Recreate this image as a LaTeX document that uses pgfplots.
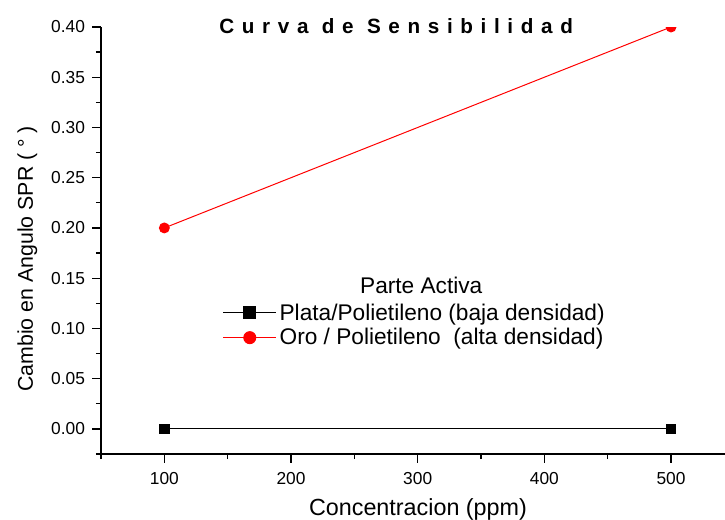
\documentclass[border=0pt]{standalone}
\usepackage{fontspec}
\setmainfont{Liberation Sans}
\newfontfamily\titlefont[LetterSpace=37]{Liberation Sans}
\usepackage{pgfplots}
\pgfplotsset{compat=1.18}

% 1px of the reference = 0.75pt here
\begin{document}
\begin{tikzpicture}
\begin{axis}[
    scale only axis,
    width=468pt, height=320.25pt,
    xmin=50, xmax=542.6,
    ymin=-0.025, ymax=0.40,
    axis lines=left,
    axis line style={-, line width=1.3pt},
    tick align=outside,
    tick style={black, line width=1pt},
    major tick length=6.5pt,
    minor tick length=3.8pt,
    xtick={100,200,300,400,500},
    minor xtick={50,150,250,350,450},
    ytick={0,0.05,...,0.41},
    minor ytick={-0.025,0.025,...,0.38},
    /pgf/number format/assume math mode=true,
    yticklabel style={xshift=-2pt, /pgf/number format/.cd, fixed, fixed zerofill, precision=2},
    xticklabel style={yshift=-4pt},
    ticklabel style={font=\fontsize{13}{15}\selectfont},
    xlabel={Concentracion (ppm)},
    ylabel={Cambio en Angulo SPR ( ° )},
    xlabel style={font=\fontsize{17.5}{19}\selectfont,
        at={(axis description cs:0.508,-0.143)}, anchor=base},
    ylabel style={font=\fontsize{16}{18}\selectfont,
        at={(axis description cs:-0.109,0.457)}, anchor=base, rotate=0},
    clip mode=individual,
    clip marker paths=true,
    legend style={draw=none, fill=none, inner sep=0pt,
        at={(axis cs:145.8,0.1276)}, anchor=north west,
        font=\fontsize{17}{19}\selectfont,
        row sep=0.8pt,
        cells={anchor=west}},
    legend image code/.code={%
        \draw[mark repeat=2, mark phase=2, #1, mark size=4.5pt]
            plot coordinates {(0pt,0pt) (20pt,0pt) (40pt,0pt)};},
]
\addplot[black, line width=0.75pt, mark=square*, mark size=3.5pt] coordinates {
    (100,0.00) (500,0.00)
};
\addlegendentry{Plata/Polietileno (baja densidad)}
\addplot[red, line width=0.75pt, mark=*, mark size=3.7pt] coordinates {
    (100,0.20) (500,0.40)
};
\addlegendentry{Oro / Polietileno \ (alta densidad)}
\node[anchor=base, font=\fontsize{17}{19}\selectfont] at (axis cs:302.8,0.1352) {Parte Activa};
\node[anchor=base, font=\titlefont\bfseries\fontsize{15.5}{18}\selectfont] at (axis cs:283,0.394) {Curva de Sensibilidad};
\end{axis}
\pgfresetboundingbox
\path[use as bounding box] (-75.75pt,-48.75pt) rectangle (468pt,340.5pt);
\end{tikzpicture}
\end{document}
